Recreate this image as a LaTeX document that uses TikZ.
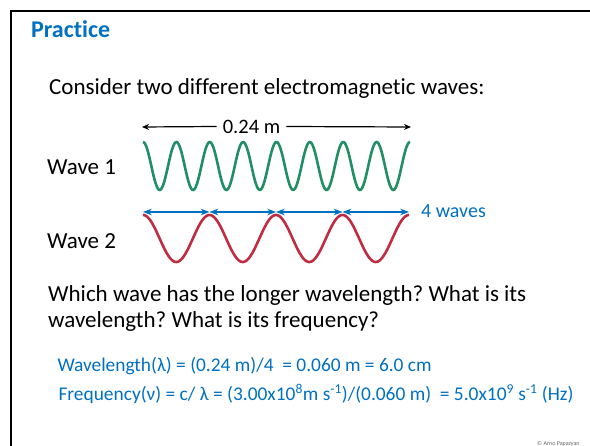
\documentclass[tikz,border=0pt]{standalone}
\usepackage{fontspec}
\setmainfont{Carlito}[Ligatures=NoCommon]
\usetikzlibrary{arrows.meta, positioning}
\definecolor{slideblue}{RGB}{0,112,192}
\definecolor{wavegreen}{RGB}{34,142,102}
\definecolor{wavered}{RGB}{192,44,66}
\frenchspacing

\begin{document}
\begin{tikzpicture}[
    x=1pt, y=-1pt, >=Stealth,
    txt/.style={anchor=base west, inner sep=0pt, font=\fontsize{23}{26}\selectfont},
    eqn/.style={anchor=base west, inner sep=0pt, text=slideblue,
                font=\fontsize{19.4}{22}\selectfont},
    wave/.style={line width=2.6pt, smooth, samples=240}
  ]
  \useasboundingbox (0,0) rectangle (590,446);
  \draw[line width=2pt] (11,447) -- (11,11) -- (592,11);

  \node[anchor=base west, inner sep=0pt, text=slideblue,
        font=\fontsize{24}{26}\selectfont\bfseries] (title) at (31,37.5) {Practice};
  \node[txt] (ask) at (49,94.3) {Consider two different electromagnetic waves:};

  % length of the wave train
  \coordinate (l0) at (142,127);
  \coordinate (l1) at (411,127);
  \node[inner xsep=6pt, inner ysep=3pt, font=\fontsize{20.5}{22}\selectfont] (len) at (251.5,126.5) {0.24 m};
  \draw[-{Stealth[length=7pt, width=6pt]}, line width=1.2pt] (len.west) -- (l0);
  \draw[-{Stealth[length=7pt, width=6pt]}, line width=1.2pt] (len.east) -- (l1);

  \node[txt] (w1) at (47,174.3) {Wave 1};
  \node[txt] (w2) at (47,248.3) {Wave 2};

  \draw[wave, wavegreen] plot[domain=143:410]
    (\x, {166-24*cos((\x-143)/33.375*360)});
  \draw[wave, wavered] plot[domain=143:409]
    (\x, {238.5-23.5*cos((\x-143)/66.5*360)});

  % one wavelength per arrow
  \foreach \i in {0,...,4}
    \coordinate (p\i) at (143+66.5*\i,212);
  \foreach \i [evaluate=\i as \j using int(\i+1)] in {0,...,3}
    \draw[<->, slideblue, line width=1.3pt] (p\i) -- (p\j);
  \node[anchor=west, inner sep=0pt, text=slideblue,
        font=\fontsize{20}{22}\selectfont] (four) at (421,211) {4 waves};

  \node[txt] (q1) at (48,301.7) {Which wave has the longer wavelength? What is its};
  \node[txt] (q2) at (48,327.3) {wavelength? What is its frequency?};

  \node[eqn] (lam) at (57.3,371.3)
    {Wavelength(λ) = (0.24 m)/4 \ = 0.060 m = 6.0 cm};
  \node[eqn] (nu) at (58.3,401)
    {Frequency(ν) = c/ λ = (3.00x10\textsuperscript{8}m s\textsuperscript{-1})/(0.060 m) \ = 5.0x10\textsuperscript{9} s\textsuperscript{-1} (Hz)};

  \node[anchor=north west, inner sep=0pt, text=black!60,
        font=\fontsize{6}{7}\selectfont] (copy) at (537,441.5) {© Arno Papazyan};
\end{tikzpicture}
\end{document}
